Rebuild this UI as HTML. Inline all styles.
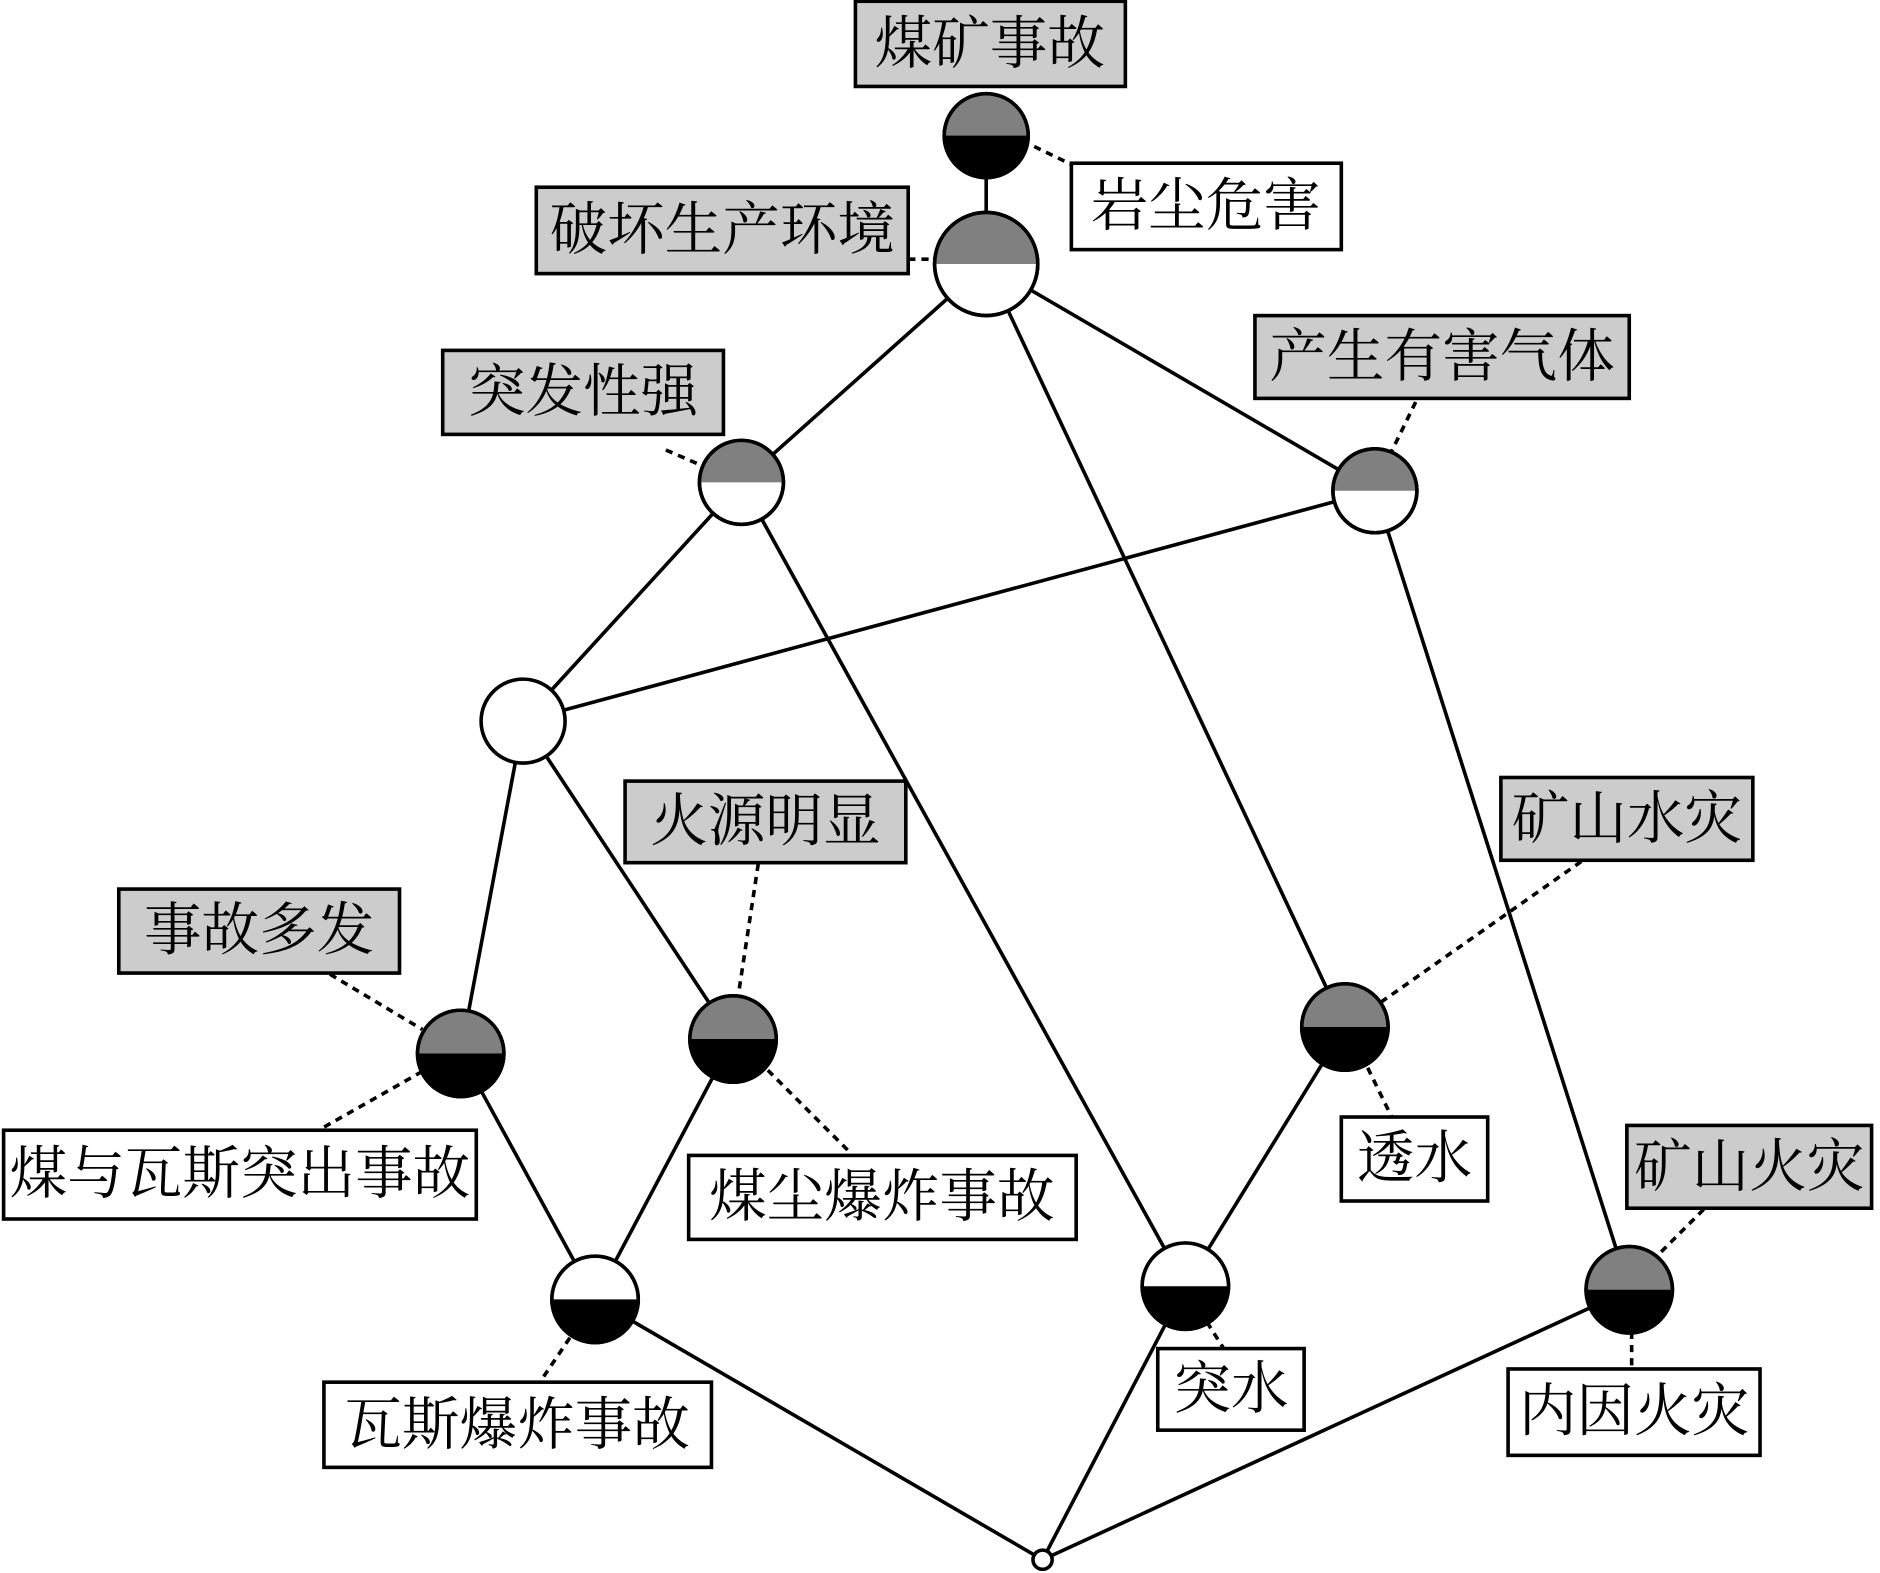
<!DOCTYPE html>
<html><head><meta charset="utf-8"><style>
html,body{margin:0;padding:0;background:#fff;}
svg{display:block;}
text{font-family:"Liberation Serif","Noto Serif CJK SC","Noto Sans CJK SC",serif;font-size:48px;fill:#000;text-anchor:middle;dominant-baseline:central;}
</style></head><body>
<svg width="1880" height="1573" viewBox="0 0 1567 1311" xmlns="http://www.w3.org/2000/svg">
<g stroke="#000" stroke-width="3" fill="none">
<line x1="822" y1="113" x2="822" y2="220"/>
<line x1="822" y1="220" x2="618" y2="402"/>
<line x1="822" y1="220" x2="1146" y2="409"/>
<line x1="822" y1="220" x2="1121" y2="856"/>
<line x1="618" y1="402" x2="436" y2="601"/>
<line x1="618" y1="402" x2="988" y2="1072"/>
<line x1="1146" y1="409" x2="436" y2="601"/>
<line x1="1146" y1="409" x2="1358" y2="1075"/>
<line x1="436" y1="601" x2="384" y2="878"/>
<line x1="436" y1="601" x2="611" y2="866"/>
<line x1="384" y1="878" x2="496" y2="1083"/>
<line x1="611" y1="866" x2="496" y2="1083"/>
<line x1="1121" y1="856" x2="988" y2="1072"/>
<line x1="496" y1="1083" x2="869" y2="1300"/>
<line x1="988" y1="1072" x2="869" y2="1300"/>
<line x1="1358" y1="1075" x2="869" y2="1300"/>
</g>
<g stroke="#000" stroke-width="3" stroke-dasharray="6,5" fill="none">
<line x1="862" y1="122" x2="893" y2="137"/>
<line x1="757" y1="216" x2="780" y2="216"/>
<line x1="555" y1="375" x2="585" y2="388"/>
<line x1="1180" y1="335" x2="1160" y2="376"/>
<line x1="275" y1="812" x2="352" y2="858"/>
<line x1="352" y1="893" x2="262" y2="944"/>
<line x1="632" y1="720" x2="615" y2="832"/>
<line x1="640" y1="892" x2="710" y2="962"/>
<line x1="1318" y1="718" x2="1150" y2="836"/>
<line x1="1140" y1="890" x2="1160" y2="931"/>
<line x1="475" y1="1115" x2="450" y2="1152"/>
<line x1="1006" y1="1102" x2="1020" y2="1124"/>
<line x1="1420" y1="1008" x2="1380" y2="1048"/>
<line x1="1360" y1="1110" x2="1360" y2="1141"/>
</g>
<defs>
<clipPath id="top"><rect x="-100" y="-100" width="200" height="100"/></clipPath>
</defs>
<g stroke="#000" stroke-width="3">
<g transform="translate(822,113)"><circle r="35" fill="#000"/><circle r="35" fill="#808080" clip-path="url(#top)" stroke="none"/><circle r="35" fill="none"/></g>
<g transform="translate(822,220)"><circle r="43" fill="#fff"/><circle r="43" fill="#808080" clip-path="url(#top)" stroke="none"/><circle r="43" fill="none"/></g>
<g transform="translate(618,402)"><circle r="35" fill="#fff"/><circle r="35" fill="#808080" clip-path="url(#top)" stroke="none"/><circle r="35" fill="none"/></g>
<g transform="translate(1146,409)"><circle r="35" fill="#fff"/><circle r="35" fill="#808080" clip-path="url(#top)" stroke="none"/><circle r="35" fill="none"/></g>
<g transform="translate(436,601)"><circle r="35" fill="#fff"/></g>
<g transform="translate(384,878)"><circle r="36" fill="#000"/><circle r="36" fill="#808080" clip-path="url(#top)" stroke="none"/><circle r="36" fill="none"/></g>
<g transform="translate(611,866)"><circle r="36" fill="#000"/><circle r="36" fill="#808080" clip-path="url(#top)" stroke="none"/><circle r="36" fill="none"/></g>
<g transform="translate(1121,856)"><circle r="36" fill="#000"/><circle r="36" fill="#808080" clip-path="url(#top)" stroke="none"/><circle r="36" fill="none"/></g>
<g transform="translate(496,1083)"><circle r="36" fill="#000"/><circle r="36" fill="#fff" clip-path="url(#top)" stroke="none"/><circle r="36" fill="none"/></g>
<g transform="translate(988,1072)"><circle r="36" fill="#000"/><circle r="36" fill="#fff" clip-path="url(#top)" stroke="none"/><circle r="36" fill="none"/></g>
<g transform="translate(1358,1075)"><circle r="36" fill="#000"/><circle r="36" fill="#808080" clip-path="url(#top)" stroke="none"/><circle r="36" fill="none"/></g>
<circle cx="869" cy="1300" r="8" fill="#fff"/>
</g>
<g stroke="#000" stroke-width="3">
<rect x="713" y="1" width="225" height="71" fill="#ccc"/>
<rect x="893" y="136" width="225" height="72" fill="#fff"/>
<rect x="447" y="156" width="310" height="72" fill="#ccc"/>
<rect x="369" y="292" width="234" height="70" fill="#ccc"/>
<rect x="1046" y="263" width="312" height="69" fill="#ccc"/>
<rect x="521" y="651" width="234" height="68" fill="#ccc"/>
<rect x="1251" y="648" width="210" height="69" fill="#ccc"/>
<rect x="99" y="741" width="234" height="70" fill="#ccc"/>
<rect x="3" y="942" width="394" height="74" fill="#fff"/>
<rect x="574" y="963" width="323" height="70" fill="#fff"/>
<rect x="1118" y="931" width="122" height="70" fill="#fff"/>
<rect x="1356" y="938" width="204" height="69" fill="#ccc"/>
<rect x="270" y="1152" width="323" height="71" fill="#fff"/>
<rect x="965" y="1124" width="122" height="68" fill="#fff"/>
<rect x="1257" y="1141" width="210" height="72" fill="#fff"/>
</g>
<text x="825" y="37">煤矿事故</text>
<text x="1005" y="172">岩尘危害</text>
<text x="602" y="192">破坏生产环境</text>
<text x="486" y="327">突发性强</text>
<text x="1202" y="298">产生有害气体</text>
<text x="638" y="685">火源明显</text>
<text x="1356" y="683">矿山水灾</text>
<text x="216" y="776">事故多发</text>
<text x="200" y="979">煤与瓦斯突出事故</text>
<text x="735" y="998">煤尘爆炸事故</text>
<text x="1179" y="966">透水</text>
<text x="1458" y="973">矿山火灾</text>
<text x="431" y="1188">瓦斯爆炸事故</text>
<text x="1026" y="1158">突水</text>
<text x="1362" y="1177">内因火灾</text>
</svg>
</body></html>
